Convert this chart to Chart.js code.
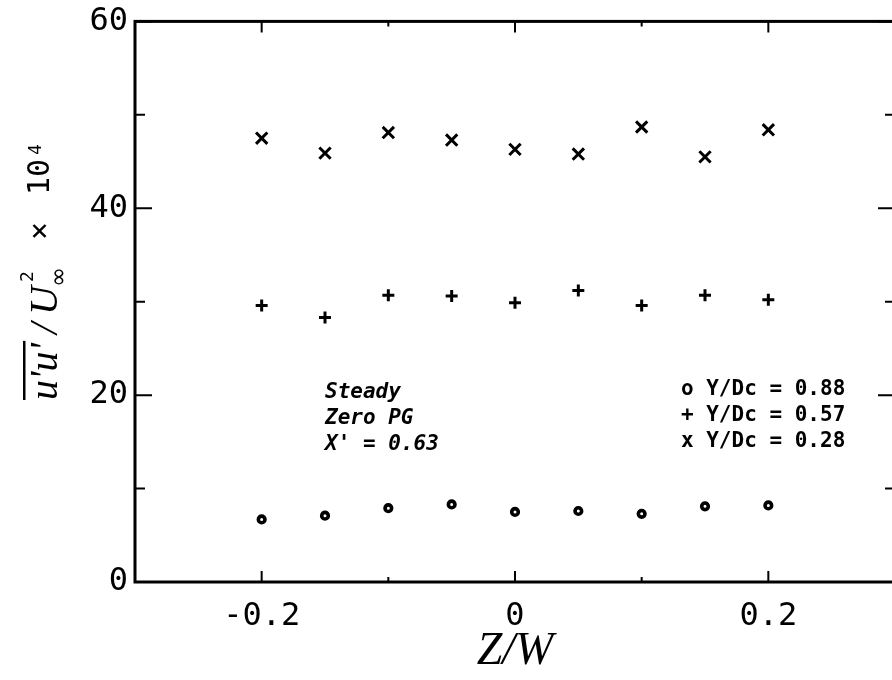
<!DOCTYPE html>
<html>
<head>
<meta charset="utf-8">
<script src="https://cdn.jsdelivr.net/npm/chart.js@4"></script>
<style>
  html, body { margin: 0; padding: 0; background: #fff; overflow: hidden; }
  canvas { display: block; }
</style>
</head>
<body>
<canvas id="chartUU" width="906" height="680"></canvas>
<script>
// spanwise stations Z/W
const zOverW = [-0.2, -0.15, -0.1, -0.05, 0, 0.05, 0.1, 0.15, 0.2];
// u'u'/Uinf^2 x 10^4, one list per Y/Dc
const uuDc088 = [6.7, 7.1, 7.9, 8.3, 7.5, 7.6, 7.3, 8.1, 8.2];
const uuDc057 = [29.6, 28.3, 30.7, 30.6, 29.9, 31.2, 29.6, 30.7, 30.2];
const uuDc028 = [47.5, 45.9, 48.1, 47.3, 46.3, 45.8, 48.7, 45.5, 48.4];

// tick values (labelled + small ones)
const xTicks = [-0.2, 0, 0.2];
const xMinor = [-0.1, 0.1];
const yTicks = [0, 20, 40, 60];
const yMinor = [10, 30, 50];

const noteLines = ["Steady", "Zero PG", "X' = 0.63"];
const keyLines = ["o Y/Dc = 0.88", "+ Y/Dc = 0.57", "x Y/Dc = 0.28"];

const MONO = '"DejaVu Sans Mono", monospace';
const SERIF = '"Liberation Serif", serif';

function pts(ys) {
  return zOverW.map((x, i) => ({ x, y: ys[i] }));
}

// frame + inward ticks on all four sides
const framePlugin = {
  id: 'frame',
  beforeDatasetsDraw(chart) {
    const { ctx, chartArea: a, scales: { x, y } } = chart;
    ctx.save();
    ctx.strokeStyle = '#000';
    ctx.lineWidth = 2;
    ctx.beginPath();
    const xt = (v, len) => {
      const px = x.getPixelForValue(v);
      ctx.moveTo(px, a.bottom); ctx.lineTo(px, a.bottom - len);
      ctx.moveTo(px, a.top); ctx.lineTo(px, a.top + len);
    };
    const yt = (v, len) => {
      const py = y.getPixelForValue(v);
      ctx.moveTo(a.left, py); ctx.lineTo(a.left + len, py);
      ctx.moveTo(a.right, py); ctx.lineTo(a.right - len, py);
    };
    xTicks.forEach(v => xt(v, 11));
    xMinor.forEach(v => xt(v, 5));
    yTicks.forEach(v => yt(v, 17));
    yMinor.forEach(v => yt(v, 10));
    ctx.stroke();
    ctx.lineWidth = 3;
    ctx.strokeRect(a.left, a.top, a.right - a.left, a.bottom - a.top);
    ctx.restore();
  },
  afterDraw(chart) {
    const { ctx, scales: { x, y } } = chart;
    ctx.save();
    ctx.fillStyle = '#000';
    ctx.textBaseline = 'alphabetic';

    // notes, left block
    ctx.font = 'italic bold 21px ' + MONO;
    let bx = x.getPixelForValue(-0.15);
    let by = y.getPixelForValue(19.7);
    noteLines.forEach((t, i) => ctx.fillText(t, bx, by + i * 26));

    // key, right block
    ctx.font = 'bold 21px ' + MONO;
    bx = x.getPixelForValue(0.131);
    by = y.getPixelForValue(20.0);
    keyLines.forEach((t, i) => ctx.fillText(t, bx, by + i * 26));

    // y axis title, rotated
    ctx.translate(57, 400);
    ctx.rotate(-Math.PI / 2);
    ctx.font = 'italic 40px ' + SERIF;
    ctx.fillText("u'u'", 0, 0);
    const w = ctx.measureText("u'u'").width;
    ctx.fillRect(0, -34, w + 2, 2.5);
    ctx.fillText('/', 66, 0);
    ctx.fillText('U', 85, 0);
    ctx.font = '24px "DejaVu Sans"';
    ctx.fillText('\u221E', 113, 9);
    ctx.font = '18px ' + MONO;
    ctx.fillText('2', 118, -24);
    ctx.font = '30px ' + MONO;
    ctx.fillText('\u00D7', 160, -8);
    ctx.fillText('10', 205, -8);
    ctx.font = '18px ' + MONO;
    ctx.fillText('4', 245, -16);
    ctx.restore();
  }
};

const ctxUU = document.getElementById('chartUU').getContext('2d');

new Chart(ctxUU, {
  type: 'scatter',
  data: {
    datasets: [
      {
        label: 'Y/Dc = 0.88',
        data: pts(uuDc088),
        pointStyle: 'circle',
        pointRadius: 3.3,
        borderWidth: 3.6,
        borderColor: '#000',
        backgroundColor: '#fff'
      },
      {
        label: 'Y/Dc = 0.57',
        data: pts(uuDc057),
        pointStyle: 'cross',
        pointRadius: 6,
        borderWidth: 3,
        borderColor: '#000',
        backgroundColor: '#000'
      },
      {
        label: 'Y/Dc = 0.28',
        data: pts(uuDc028),
        pointStyle: 'crossRot',
        pointRadius: 8,
        borderWidth: 3,
        borderColor: '#000',
        backgroundColor: '#000'
      }
    ]
  },
  options: {
    responsive: false,
    animation: false,
    devicePixelRatio: 1,
    layout: { padding: { left: 0, top: 13, right: 4, bottom: 0 } },
    plugins: {
      legend: { display: false },
      tooltip: { enabled: false }
    },
    scales: {
      x: {
        type: 'linear',
        min: -0.3,
        max: 0.3,
        grid: { display: false, drawTicks: false },
        border: { display: false },
        afterBuildTicks: s => { s.ticks = xTicks.map(v => ({ value: v })); },
        afterFit: s => { s.height = 98; },
        ticks: {
          padding: 15,
          color: '#000',
          font: { family: MONO, size: 32 },
          callback: v => String(v)
        },
        title: {
          display: true,
          text: 'Z/W',
          color: '#000',
          font: { family: SERIF, style: 'italic', size: 46 },
          padding: { top: 0, bottom: 0 }
        }
      },
      y: {
        type: 'linear',
        min: 0,
        max: 60,
        grid: { display: false, drawTicks: false },
        border: { display: false },
        afterBuildTicks: s => { s.ticks = yTicks.map(v => ({ value: v })); },
        afterFit: s => { s.width = 135; },
        ticks: {
          padding: 7,
          color: '#000',
          font: { family: MONO, size: 32, lineHeight: 0.9 },
          callback: v => String(v)
        }
      }
    }
  },
  plugins: [framePlugin]
});
</script>
</body>
</html>
